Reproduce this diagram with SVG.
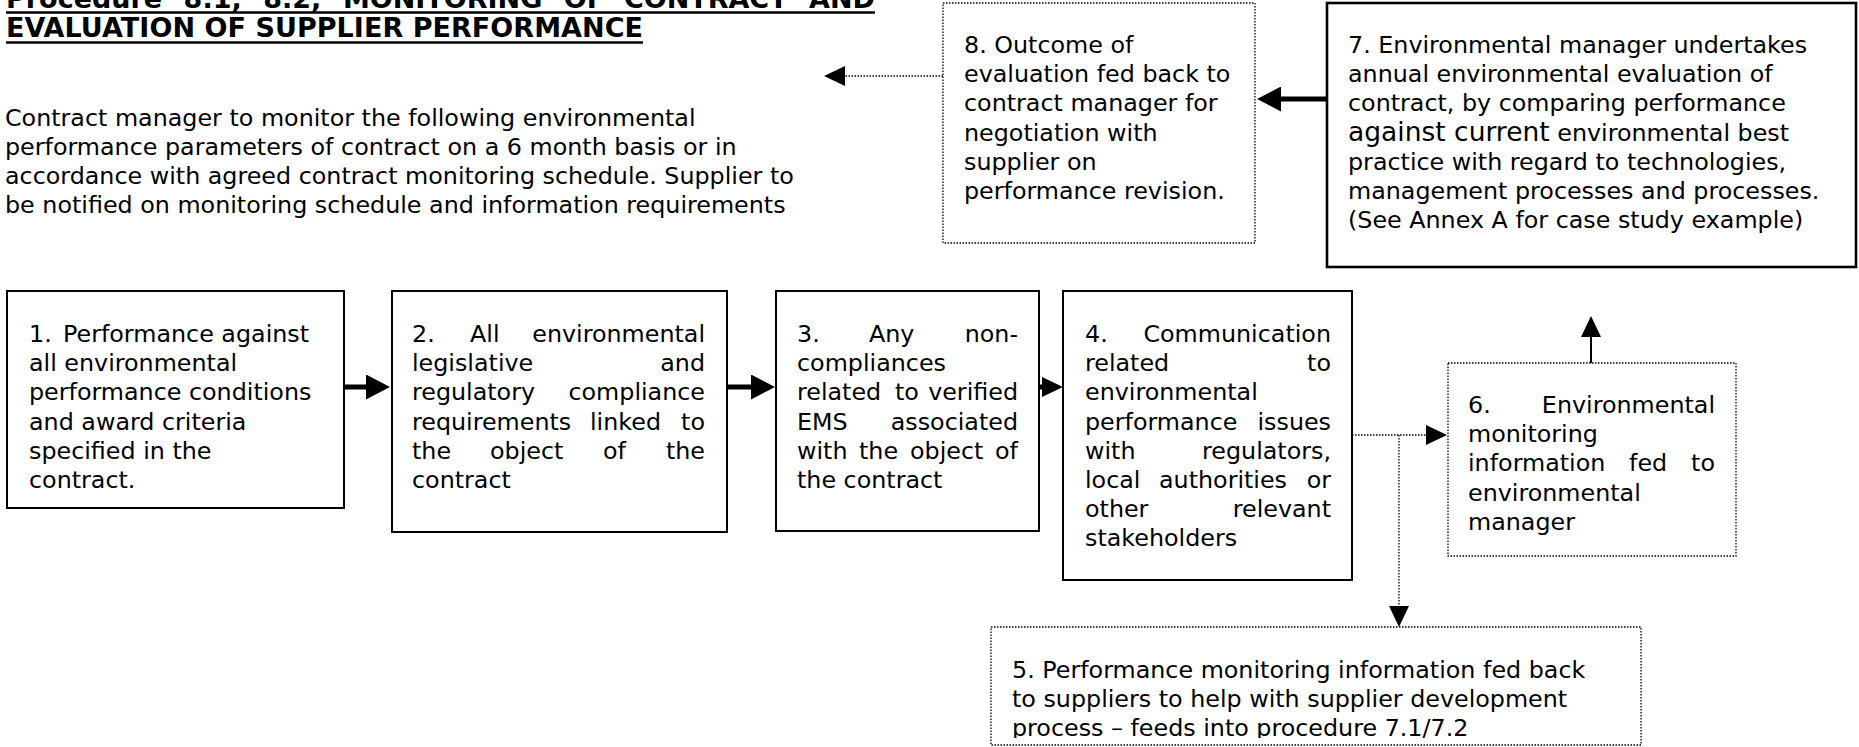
<svg xmlns="http://www.w3.org/2000/svg" width="1859" height="747" viewBox="0 0 1859 747">
<style>
text { font-family: "DejaVu Sans", Verdana, sans-serif; font-size: 23.8px; fill: #000; }
.title { font-weight: bold; font-size: 27px; }
.big { font-size: 26.5px; }
.box { fill: #fff; stroke: #000; stroke-width: 2; }
.box7 { fill: #fff; stroke: #000; stroke-width: 2.6; }
.dot { fill: #fff; stroke: #000; stroke-width: 1.3; stroke-dasharray: 1.5 1.5; }
.thick { fill: none; stroke: #000; stroke-width: 5; }
.thin { fill: none; stroke: #000; stroke-width: 2; }
.dline { fill: none; stroke: #000; stroke-width: 1.3; stroke-dasharray: 1.5 1.5; }
.ul { stroke: #000; stroke-width: 2.5; }
</style>
<defs>
<marker id="hL" markerUnits="userSpaceOnUse" viewBox="0 0 24 25" markerWidth="24" markerHeight="25" refX="0" refY="12.5" orient="auto">
<path d="M0,0 L24,12.5 L0,25 Z" fill="#000"/>
</marker>
<marker id="hS" markerUnits="userSpaceOnUse" viewBox="0 0 21 20" markerWidth="21" markerHeight="20" refX="0" refY="10" orient="auto">
<path d="M0,0 L21,10 L0,20 Z" fill="#000"/>
</marker>
<clipPath id="clip5"><rect x="991" y="627" width="650" height="111"/></clipPath>
</defs>
<rect width="1859" height="747" fill="#fff"/>

<g id="title">
<text class="title" y="8"><tspan x="6">Procedure</tspan><tspan x="183.6">8.1,</tspan><tspan x="263.2">8.2,</tspan><tspan x="342.9">MONITORING</tspan><tspan x="563.8">OF</tspan><tspan x="623.9">CONTRACT</tspan><tspan x="875" text-anchor="end">AND</tspan></text>
<line class="ul" x1="6" y1="12.5" x2="875" y2="12.5"/>
<text class="title" x="6" y="37" textLength="637" lengthAdjust="spacing">EVALUATION OF SUPPLIER PERFORMANCE</text>
<line class="ul" x1="6" y1="42.5" x2="643" y2="42.5"/>
</g>

<g id="intro">
<text x="5" y="126">Contract manager to monitor the following environmental</text>
<text x="5" y="155">performance parameters of contract on a 6 month basis or in</text>
<text x="5" y="184">accordance with agreed contract monitoring schedule. Supplier to</text>
<text x="5" y="213">be notified on monitoring schedule and information requirements</text>
</g>

<g id="connectors">
<path class="thick" d="M344,387 H366" marker-end="url(#hL)"/>
<path class="thick" d="M727,387 H751" marker-end="url(#hL)"/>
<path class="thick" d="M1039,387 H1042" marker-end="url(#hS)"/>
<path class="dline" d="M1352,435 H1426" marker-end="url(#hS)"/>
<path class="dline" d="M1399,435 V606" marker-end="url(#hS)"/>
<path class="thin" d="M1591,363 V337" marker-end="url(#hS)"/>
<path class="thick" d="M1327,99 H1281" marker-end="url(#hL)"/>
<path class="dline" d="M943,76 H845" marker-end="url(#hS)"/>
</g>

<g id="node1">
<rect class="box" x="7" y="291" width="337" height="217"/>
<text x="29" y="342">1.<tspan x="63">Performance against</tspan></text>
<text x="29" y="371.2">all environmental</text>
<text x="29" y="400.4">performance conditions</text>
<text x="29" y="429.6">and award criteria</text>
<text x="29" y="458.8">specified in the</text>
<text x="29" y="488">contract.</text>
</g>

<g id="node2">
<rect class="box" x="392" y="291" width="335" height="241"/>
<text y="342"><tspan x="412">2.</tspan><tspan x="470">All</tspan><tspan x="705" text-anchor="end">environmental</tspan></text>
<text y="371.2"><tspan x="412">legislative</tspan><tspan x="705" text-anchor="end">and</tspan></text>
<text y="400.4"><tspan x="412">regulatory</tspan><tspan x="705" text-anchor="end">compliance</tspan></text>
<text y="429.6"><tspan x="412">requirements</tspan><tspan x="590">linked</tspan><tspan x="705" text-anchor="end">to</tspan></text>
<text y="458.8"><tspan x="412">the</tspan><tspan x="490">object</tspan><tspan x="603">of</tspan><tspan x="705" text-anchor="end">the</tspan></text>
<text x="412" y="488">contract</text>
</g>

<g id="node3">
<rect class="box" x="776" y="291" width="263" height="240"/>
<text y="342"><tspan x="797">3.</tspan><tspan x="869">Any</tspan><tspan x="1018" text-anchor="end">non-</tspan></text>
<text x="797" y="371.2">compliances</text>
<text y="400.4"><tspan x="797">related</tspan><tspan x="895">to</tspan><tspan x="1018" text-anchor="end">verified</tspan></text>
<text y="429.6"><tspan x="797">EMS</tspan><tspan x="1018" text-anchor="end">associated</tspan></text>
<text y="458.8"><tspan x="797">with</tspan><tspan x="859">the</tspan><tspan x="910">object</tspan><tspan x="1018" text-anchor="end">of</tspan></text>
<text x="797" y="488">the contract</text>
</g>

<g id="node4">
<rect class="box" x="1063" y="291" width="289" height="289"/>
<text y="342"><tspan x="1085">4.</tspan><tspan x="1331" text-anchor="end">Communication</tspan></text>
<text y="371.2"><tspan x="1085">related</tspan><tspan x="1331" text-anchor="end">to</tspan></text>
<text x="1085" y="400.4">environmental</text>
<text y="429.6"><tspan x="1085">performance</tspan><tspan x="1331" text-anchor="end">issues</tspan></text>
<text y="458.8"><tspan x="1085">with</tspan><tspan x="1331" text-anchor="end">regulators,</tspan></text>
<text y="488"><tspan x="1085">local</tspan><tspan x="1159">authorities</tspan><tspan x="1331" text-anchor="end">or</tspan></text>
<text y="517.2"><tspan x="1085">other</tspan><tspan x="1331" text-anchor="end">relevant</tspan></text>
<text x="1085" y="546.4">stakeholders</text>
</g>

<g id="node5">
<rect class="dot" x="991" y="627" width="650" height="118"/>
<g clip-path="url(#clip5)">
<text x="1012" y="678">5. Performance monitoring information fed back</text>
<text x="1012" y="707">to suppliers to help with supplier development</text>
<text x="1012" y="736">process – feeds into procedure 7.1/7.2</text>
</g>
</g>

<g id="node6">
<rect class="dot" x="1448" y="363" width="288" height="193"/>
<text y="413"><tspan x="1468">6.</tspan><tspan x="1715" text-anchor="end">Environmental</tspan></text>
<text x="1468" y="442.2">monitoring</text>
<text y="471.4"><tspan x="1468">information</tspan><tspan x="1629">fed</tspan><tspan x="1715" text-anchor="end">to</tspan></text>
<text x="1468" y="500.6">environmental</text>
<text x="1468" y="529.8">manager</text>
</g>

<g id="node7">
<rect class="box7" x="1327" y="3" width="529" height="264"/>
<text x="1348" y="53">7. Environmental manager undertakes</text>
<text x="1348" y="82.2">annual environmental evaluation of</text>
<text x="1348" y="111.4">contract, by comparing performance</text>
<text x="1348" y="140.6"><tspan class="big">against current</tspan> environmental best</text>
<text x="1348" y="169.8">practice with regard to technologies,</text>
<text x="1348" y="199">management processes and processes.</text>
<text x="1348" y="228.2">(See Annex A for case study example)</text>
</g>

<g id="node8">
<rect class="dot" x="943" y="3" width="312" height="240"/>
<text x="964" y="53">8. Outcome of</text>
<text x="964" y="82.2">evaluation fed back to</text>
<text x="964" y="111.4">contract manager for</text>
<text x="964" y="140.6">negotiation with</text>
<text x="964" y="169.8">supplier on</text>
<text x="964" y="199">performance revision.</text>
</g>
</svg>
